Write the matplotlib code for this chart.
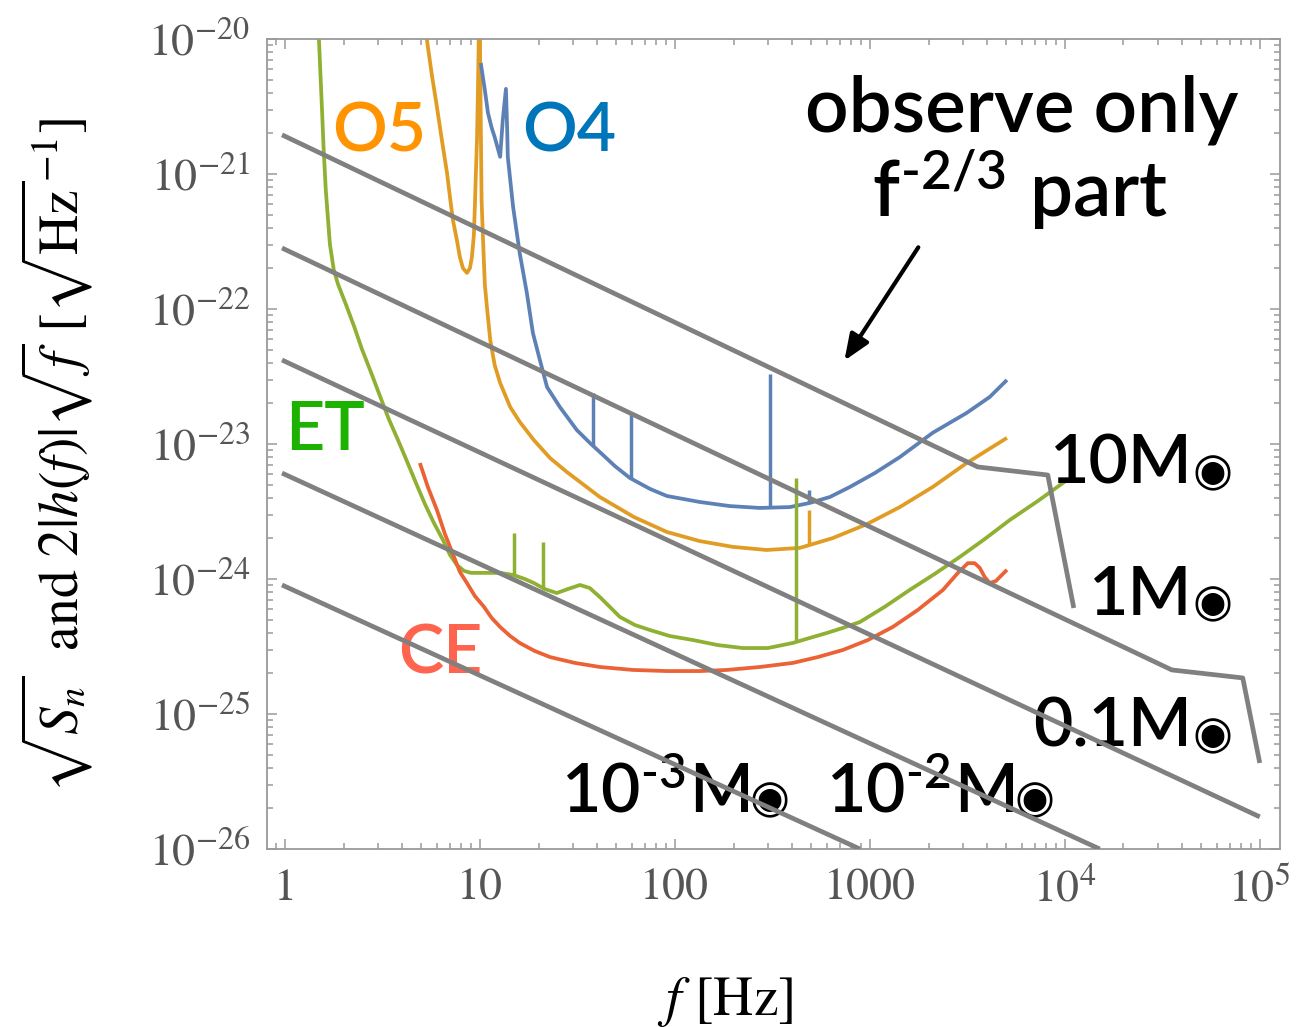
import matplotlib
matplotlib.use("Agg")
import matplotlib.pyplot as plt
import numpy as np
from matplotlib.ticker import FixedLocator, LogLocator, NullFormatter, FixedFormatter

plt.rcParams['mathtext.fontset'] = 'stix'

# detector noise curves: frequency [Hz], sqrt(S_n) [1/sqrt(Hz)]
o4_f = [10.1, 10.6, 11.0, 11.5, 11.9, 12.7, 13.1, 13.6, 13.8, 13.9, 14.8, 16.0, 17.4,
        18.7, 20.3, 22.1, 25.7, 31.4, 36.6, 41.2, 49.2, 58.8, 74.5, 91.0, 134, 191,
        273, 389, 492, 624, 789, 1060, 1425, 2100, 3140, 4120, 5050]
o4_s = [6.64e-21, 4.19e-21, 2.83e-21, 2.19e-21, 1.88e-21, 1.34e-21, 2.51e-21, 4.27e-21,
        2.12e-21, 1.34e-21, 5.70e-22, 2.60e-22, 1.32e-22, 6.64e-23, 4.19e-23, 2.64e-23,
        1.88e-23, 1.27e-23, 1.02e-23, 8.72e-24, 6.87e-24, 5.60e-24, 4.65e-24, 4.12e-24,
        3.72e-24, 3.47e-24, 3.36e-24, 3.41e-24, 3.66e-24, 4.05e-24, 4.80e-24, 6.09e-24,
        8.0e-24, 1.21e-23, 1.70e-23, 2.23e-23, 2.98e-23]
o4_line_f = [37.9, 59.5, 307, 487]
o4_line_top = [2.39e-23, 1.70e-23, 3.3e-23, 4.56e-24]

o5_f = [5.22, 5.35, 5.67, 6.02, 6.38, 6.78, 7.02, 7.27, 7.62, 7.89, 8.18, 8.58, 8.89,
        9.10, 9.31, 9.42, 9.53, 9.66, 9.77, 9.88, 10.0, 10.1, 10.2, 10.4, 10.6, 10.9,
        11.3, 11.9, 12.7, 14.3, 16.0, 18.9, 22.9, 27.9, 41.2, 61.6, 91.0, 134, 198,
        296, 438, 646, 966, 1425, 2100, 3140, 5050]
o5_s = [1.38e-20, 9.8e-21, 5.41e-21, 3.13e-21, 1.79e-21, 1.02e-21, 6.76e-22, 4.56e-22,
        3.24e-22, 2.43e-22, 2.01e-22, 1.85e-22, 2.01e-22, 2.43e-22, 3.53e-22, 5.70e-22,
        9.84e-22, 1.79e-21, 4.19e-21, 1.17e-20, 1.17e-20, 2.51e-21, 6.41e-22, 2.98e-22,
        1.51e-22, 9.84e-23, 5.89e-23, 3.85e-23, 2.83e-23, 1.88e-23, 1.46e-23, 1.07e-23,
        7.87e-24, 6.21e-24, 4.05e-24, 2.88e-24, 2.23e-24, 1.91e-24, 1.73e-24, 1.64e-24,
        1.70e-24, 2.01e-24, 2.55e-24, 3.41e-24, 4.80e-24, 7.23e-24, 1.11e-23]
o5_line_f = [487]
o5_line_top = [3.24e-24]

et_f = [1.48, 1.51, 1.55, 1.58, 1.62, 1.70, 1.78, 1.87, 2.06, 2.26, 2.48, 2.76, 3.07,
        3.41, 3.80, 4.22, 4.70, 5.22, 5.81, 6.46, 7.02, 7.62, 8.28, 8.99, 10.6, 12.7,
        14.9, 17.0, 18.9, 21.5, 24.8, 28.3, 32.6, 36.6, 41.2, 46.4, 52.2, 62.4, 74.5,
        94.2, 124, 166, 223, 300, 403, 492, 601, 727, 889, 1190, 1600, 2150, 2900,
        3890, 5230, 7270, 10100]
et_s = [1.38e-20, 6.98e-21, 2.93e-21, 1.51e-21, 7.60e-22, 3.03e-22, 1.95e-22, 1.53e-22,
        1.07e-22, 7.48e-23, 5.06e-23, 3.41e-23, 2.27e-23, 1.53e-23, 1.07e-23, 7.48e-24,
        5.14e-24, 3.60e-24, 2.60e-24, 1.95e-24, 1.51e-24, 1.27e-24, 1.15e-24, 1.11e-24,
        1.11e-24, 1.11e-24, 1.07e-24, 1.0e-24, 9.34e-25, 8.43e-25, 7.87e-25, 8.43e-25,
        9.03e-25, 8.57e-25, 7.36e-25, 6.21e-25, 5.24e-25, 4.56e-25, 4.19e-25, 3.78e-25,
        3.53e-25, 3.24e-25, 3.08e-25, 3.08e-25, 3.36e-25, 3.66e-25, 3.98e-25, 4.34e-25,
        4.80e-25, 6.21e-25, 8.29e-25, 1.09e-24, 1.46e-24, 1.98e-24, 2.74e-24, 3.78e-24,
        5.32e-24]
et_line_f = [14.9, 21.0, 418]
et_line_top = [2.19e-24, 1.88e-24, 5.6e-24]

ce_f = [4.92, 5.41, 6.02, 6.62, 7.36, 7.89, 8.58, 9.42, 10.5, 11.5, 12.7, 14.3, 16.0,
        19.1, 22.9, 30.7, 41.2, 60.9, 91.0, 134, 185, 273, 403, 541, 727, 977, 1310,
        1760, 2370, 2830, 3180, 3450, 3660, 3890, 4120, 4430, 4750, 5050]
ce_s = [7.23e-24, 4.80e-24, 3.24e-24, 2.15e-24, 1.46e-24, 1.13e-24, 9.34e-25, 7.48e-25,
        6.21e-25, 5.14e-25, 4.41e-25, 3.78e-25, 3.36e-25, 2.93e-25, 2.64e-25, 2.39e-25,
        2.23e-25, 2.12e-25, 2.08e-25, 2.08e-25, 2.12e-25, 2.23e-25, 2.39e-25, 2.64e-25,
        2.98e-25, 3.53e-25, 4.41e-25, 5.89e-25, 8.29e-25, 1.11e-24, 1.31e-24, 1.31e-24,
        1.21e-24, 1.03e-24, 9.34e-25, 9.66e-25, 1.07e-24, 1.17e-24]

# 2|h(f)| sqrt(f) tracks for each mass
m10_f = [0.966, 3580, 8180, 11120]
m10_h = [1.95e-21, 6.76e-24, 5.89e-24, 6.10e-25]
m1_f = [0.966, 35400, 81800, 100000]
m1_h = [2.83e-22, 2.12e-25, 1.85e-25, 4.34e-26]
m01_f = [0.966, 100000]
m01_h = [4.19e-23, 1.73e-26]
m001_f = [0.966, 15100]
m001_h = [6.09e-24, 1.0e-26]
m0001_f = [0.966, 889]
m0001_h = [9.03e-25, 1.0e-26]

curve_colors = {'O4': '#5E81B5', 'O5': '#E19C24', 'ET': '#8FB032', 'CE': '#EB6235'}
label_colors = {'O4': '#0076BA', 'O5': '#FF9300', 'ET': '#1DB100', 'CE': '#FF644E'}

fig = plt.figure(figsize=(12.97, 10.27), dpi=100)
ax = fig.add_axes([267/1297, 1-849/1027, 1013/1297, 810/1027])
ax.set_xscale('log')
ax.set_yscale('log')


def logint(fx, f, s):
    return 10**np.interp(np.log10(fx), np.log10(f), np.log10(s))


for name, f, s, lf, lt in [('O5', o5_f, o5_s, o5_line_f, o5_line_top),
                           ('O4', o4_f, o4_s, o4_line_f, o4_line_top),
                           ('ET', et_f, et_s, et_line_f, et_line_top),
                           ('CE', ce_f, ce_s, [], [])]:
    ax.plot(f, s, color=curve_colors[name], lw=2.7, zorder=2,
            solid_joinstyle='round', solid_capstyle='butt')
    if lf:
        ax.vlines(lf, logint(lf, f, s), lt, color=curve_colors[name], lw=2.5, zorder=2)

for f, h in [(m10_f, m10_h), (m1_f, m1_h), (m01_f, m01_h), (m001_f, m001_h), (m0001_f, m0001_h)]:
    ax.plot(f, h, color='#808080', lw=3.4, zorder=4, solid_capstyle='butt')

ax.set_xlim(0.809, 1.27e5)
ax.set_ylim(1e-26, 1e-20)

# frame and ticks
for sp in ax.spines.values():
    sp.set_color('#9a9a9a')
    sp.set_linewidth(1.3)
ax.tick_params(which='both', direction='in', top=True, right=True, color='#9a9a9a', width=1.1)
ax.tick_params(which='major', length=7.5, pad=14)
ax.tick_params(which='minor', length=4.3)
ax.xaxis.set_major_locator(FixedLocator([1, 10, 100, 1000, 1e4, 1e5]))
ax.xaxis.set_major_formatter(FixedFormatter(['1', '10', '100', '1000', '$10^4$', '$10^5$']))
ax.xaxis.set_minor_locator(LogLocator(base=10, subs=np.arange(2, 10), numticks=20))
ax.xaxis.set_minor_formatter(NullFormatter())
yt = [1e-26, 1e-25, 1e-24, 1e-23, 1e-22, 1e-21, 1e-20]
ax.yaxis.set_major_locator(FixedLocator(yt))
ax.yaxis.set_major_formatter(FixedFormatter([r'$10^{%d}$' % k for k in range(-26, -19)]))
ax.yaxis.set_minor_locator(LogLocator(base=10, subs=np.arange(2, 10), numticks=20))
ax.yaxis.set_minor_formatter(NullFormatter())
for lab in ax.get_xticklabels() + ax.get_yticklabels():
    lab.set_fontsize(33)
    lab.set_color('#555555')
    lab.set_fontfamily('STIXGeneral')
ax.tick_params(axis='y', pad=12)

ax.set_xlabel(r'$f$ [Hz]', fontsize=40, fontfamily='STIXGeneral')
ax.xaxis.set_label_coords(0.452, -0.155)
ax.set_ylabel(r'$\sqrt{S_n}$  and $2|h(f)|\sqrt{f}$ [$\sqrt{\mathrm{Hz}}^{-1}$]',
              fontsize=40, fontfamily='STIXGeneral')
ax.yaxis.set_label_coords(-0.17, 0.486)

sans = ['Lato', 'Noto Sans', 'DejaVu Sans']
tkw = dict(family=sans, fontsize=49, fontweight='semibold', zorder=3)
ax.text(3.03, 1.46e-21, 'O5', color=label_colors['O5'], ha='center', va='baseline', **tkw)
ax.text(28.6, 1.46e-21, 'O4', color=label_colors['O4'], ha='center', va='baseline', **tkw)
ax.text(1.60, 9.04e-24, 'ET', color=label_colors['ET'], ha='center', va='baseline', **tkw)
ax.text(6.24, 2.01e-25, 'CE', color=label_colors['CE'], ha='center', va='baseline', **tkw)

# mass labels: text right-aligned, solar symbol drawn a bit smaller after it
mass_labels = ['10M', '1M', '0.1M', r'10$^{\mathregular{‐2}}$M', r'10$^{\mathregular{‐3}}$M']
mass_label_f = [72700, 72700, 72700, 8890, 389]
mass_label_h = [5.06e-24, 5.41e-25, 5.70e-26, 1.91e-26, 1.91e-26]
for txt, lf, lh in zip(mass_labels, mass_label_f, mass_label_h):
    ax.annotate(txt, xy=(lf, lh), xytext=(-29, 0), textcoords='offset points',
                ha='right', va='baseline', **tkw)
    ax.annotate('◉', xy=(lf, lh), xytext=(0, -1), textcoords='offset points',
                ha='right', va='baseline', family='DejaVu Sans', fontsize=33, zorder=3)

ax.text(6020, 2.05e-21, 'observe only', ha='center', va='baseline',
        family=sans, fontsize=55, fontweight='semibold', zorder=5)
ax.text(5880, 4.8e-22, r'f$^{\mathregular{‐2/3}}$ part', ha='center', va='baseline',
        family=sans, fontsize=55, fontweight='semibold', zorder=5)
ax.annotate('', xy=(727, 3.98e-23), xytext=(1805, 2.98e-22),
            arrowprops=dict(arrowstyle='-|>,head_length=1.6,head_width=0.65',
                            color='black', lw=3),
            zorder=5)

fig.savefig('out.png', dpi=100)
